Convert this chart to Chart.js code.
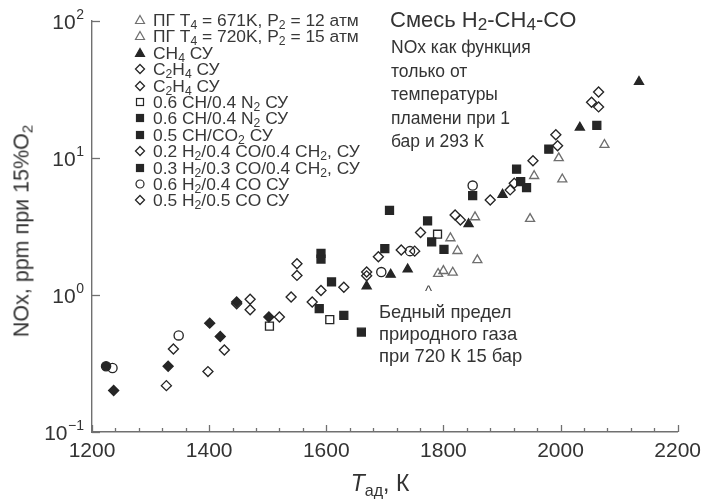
<!DOCTYPE html>
<html><head><meta charset="utf-8">
<script src="https://cdn.jsdelivr.net/npm/chart.js@4/dist/chart.umd.min.js"></script>
<style>
html,body{margin:0;padding:0;background:#fff;}
#wrap{position:relative;width:708px;height:499px;font-family:"Liberation Sans",Arial,sans-serif;color:#333;overflow:hidden;}
canvas{position:absolute;left:0;top:0;}
.t{position:absolute;white-space:nowrap;}
sub{font-size:0.7em;vertical-align:-0.28em;line-height:0;}
.lg{position:absolute;white-space:nowrap;font-size:17.4px;line-height:18px;height:18px;color:#383838;}
.lg svg{position:absolute;left:-19px;top:3px;}
</style></head><body>
<div id="wrap">
<canvas id="c" width="708" height="499"></canvas>
<div id="legend"></div>
<div class="t" style="left:390px;top:7px;font-size:22px;">Смесь H<sub style="font-size:0.78em;vertical-align:-0.2em">2</sub>-CH<sub style="font-size:0.78em;vertical-align:-0.2em">4</sub>-CO</div>
<div class="t" style="left:391px;top:36px;font-size:17.5px;line-height:23.5px;">NOx как функция<br>только от<br>температуры<br>пламени при 1<br>бар и 293 К</div>
<div class="t" style="left:379px;top:301px;font-size:18.4px;line-height:22px;">Бедный предел<br>природного газа<br>при 720 К 15 бар</div>
<div class="t" style="left:425px;top:282px;font-size:15px;color:#444;">^</div>
<div class="t" style="left:0;width:760px;top:470px;text-align:center;font-size:23px;"><i>T</i><sub style="font-size:0.7em">ад</sub>, К</div>
<div class="t" style="left:22px;top:231px;font-size:21.5px;transform:translate(-50%,-50%) rotate(-90deg);">NOx, ppm при 15%O<sub>2</sub></div>
</div>
<script>
// ---- data (T_ad in K, NOx in ppm @15% O2) ----
const xTickValues = [1200, 1400, 1600, 1800, 2000, 2200];
const yTickValues = [0.1, 1, 10, 100];
const yTickExponents = ['\u22121', '0', '1', '2'];

const pg671 = [[1791,1.43],[1800,1.5],[1816,1.46],[1824,2.1],[1858,1.8],[1812,2.6]];
const pg720 = [[1854,3.7],[1948,3.6],[1955,7.4],[1997,10],[2003,7.0],[2075,12.5]];
const ch4 = [[2134,36],[2033,16.7],[1901,5.4],[1843,3.3],[1739,1.54],[1710,1.41],[1669,1.16]];
const c2h4a = [[1327,0.218],[1398,0.276],[1426,0.397],[1339,0.404],[1470,0.93],[1470,0.78],[1447,0.864],[1520,0.69]];
const c2h4b = [[1540,0.967],[1550,1.69],[1550,1.39],[1576,0.889],[1591,1.08],[1630,1.14]];
const chN2open = [[1790,2.78],[1606,0.661],[1503,0.593]];
const chN2filled = [[1588,0.794],[1591,2.01],[1591,1.83],[1609,1.245],[1630,0.71],[1660,0.536]];
const chCO2 = [[1700,2.18],[1708,4.15],[1773,3.47],[1780,2.44],[1801,2.15],[1850,5.31]];
const h2co02 = [[1669,1.47],[1669,1.38],[1689,1.9],[1728,2.13],[1751,2.09],[1761,2.86],[1820,3.84],[1829,3.53]];
const h2co03 = [[1925,8.28],[1932,6.73],[1942,6.08],[1980,11.6],[2062,17.3]];
const h2co06 = [[1235,0.293],[1348,0.507],[1694,1.47],[1743,2.09],[1850,6.29]];
const h2co05 = [[1880,4.94],[1914,5.85],[1921,6.54],[1953,9.54],[1992,14.8],[1995,12.3],[2053,25.5],[2065,30.3],[2065,23.6]];
const extraFilledDiamond = [[1237,0.201],[1330,0.302],[1401,0.623],[1419,0.498],[1447,0.889],[1502,0.69]];
const extraFilledCircle = [[1224,0.302]];

const seriesLabels = [
  'ПГ T_4 = 671K, P_2 = 12 атм',
  'ПГ T_4 = 720K, P_2 = 15 атм',
  'CH_4 СУ',
  'C_2H_4 СУ',
  'C_2H_4 СУ',
  '0.6 CH/0.4 N_2 СУ',
  '0.6 CH/0.4 N_2 СУ',
  '0.5 CH/CO_2 СУ',
  '0.2 H_2/0.4 CO/0.4 CH_2, СУ',
  '0.3 H_2/0.3 CO/0.4 CH_2, СУ',
  '0.6 H_2/0.4 CO СУ',
  '0.5 H_2/0.5 CO СУ'
];

const GREY = '#6f6f6f', DARK = '#262626';
const series = [
  {data: pg671, style:'triangle', fill:false, color:GREY, legend:0},
  {data: pg720, style:'triangle', fill:false, color:GREY, legend:1},
  {data: ch4, style:'triangle', fill:true, color:DARK, legend:2},
  {data: c2h4a, style:'rectRot', fill:false, color:DARK, legend:3},
  {data: c2h4b, style:'rectRot', fill:false, color:DARK, legend:4},
  {data: chN2open, style:'rect', fill:false, color:DARK, legend:5},
  {data: chN2filled, style:'rect', fill:true, color:DARK, legend:6},
  {data: chCO2, style:'rect', fill:true, color:DARK, legend:7},
  {data: h2co02, style:'rectRot', fill:false, color:DARK, legend:8},
  {data: h2co03, style:'rect', fill:true, color:DARK, legend:9},
  {data: h2co06, style:'circle', fill:false, color:DARK, legend:10},
  {data: h2co05, style:'rectRot', fill:false, color:DARK, legend:11},
  {data: extraFilledDiamond, style:'rectRot', fill:true, color:DARK, legend:-1},
  {data: extraFilledCircle, style:'circle', fill:true, color:DARK, legend:-1}
];
const radiusFor = {triangle:5.2, rectRot:5, rect:5.6, circle:4.6};

const datasets = series.map(s => ({
  label: s.legend >= 0 ? seriesLabels[s.legend] : '',
  data: s.data.map(p => ({x:p[0], y:p[1]})),
  pointStyle: s.style,
  pointRadius: radiusFor[s.style],
  pointBackgroundColor: s.fill ? s.color : 'rgba(0,0,0,0)',
  pointBorderColor: s.color,
  pointBorderWidth: 1.35,
  showLine: false
}));

// ---- custom legend (HTML text, svg markers) ----
function markerSvg(style, fill, color){
  const f = fill ? color : 'none';
  let shape = '';
  if (style==='triangle') shape = `<polygon points="6,1.5 10.5,9.5 1.5,9.5" fill="${f}" stroke="${color}" stroke-width="1.2"/>`;
  else if (style==='rectRot') shape = `<polygon points="6,1.5 10.5,6 6,10.5 1.5,6" fill="${f}" stroke="${color}" stroke-width="1.3"/>`;
  else if (style==='rect') shape = `<rect x="2.5" y="2.5" width="7" height="7" fill="${f}" stroke="${color}" stroke-width="1.2"/>`;
  else shape = `<circle cx="6" cy="6" r="4" fill="${f}" stroke="${color}" stroke-width="1.2"/>`;
  return `<svg width="12" height="12" viewBox="0 0 12 12">${shape}</svg>`;
}
const lg = document.getElementById('legend');
series.filter(s => s.legend >= 0).forEach(s => {
  const i = s.legend;
  const d = document.createElement('div');
  d.className = 'lg';
  d.style.left = '153px';
  d.style.top = (11 + i*16.4) + 'px';
  d.innerHTML = markerSvg(s.style, s.fill, s.color) + seriesLabels[i].replace(/_(\d)/g, '<sub>$1</sub>');
  lg.appendChild(d);
});

// ---- inward ticks + y labels ----
const axisDecor = {
  id: 'axisDecor',
  afterDraw(chart){
    const {ctx, scales:{x, y}} = chart;
    ctx.save();
    ctx.strokeStyle = '#707070';
    ctx.lineWidth = 1.3;
    const yb = y.bottom;
    for (let v = 1200; v <= 2200; v += 40){
      const px = Math.round(x.getPixelForValue(v)) + 0.5;
      const major = (v - 1200) % 200 === 0;
      ctx.beginPath(); ctx.moveTo(px, yb); ctx.lineTo(px, yb - (major ? 7 : 4)); ctx.stroke();
    }
    yTickValues.forEach(v => {
      const py = Math.round(y.getPixelForValue(v)) + 0.5;
      ctx.beginPath(); ctx.moveTo(x.left, py); ctx.lineTo(x.left + 8, py); ctx.stroke();
    });
    ctx.fillStyle = '#333';
    ctx.textBaseline = 'middle';
    ctx.textAlign = 'left';
    const right = 84;
    yTickValues.forEach((v, i) => {
      const py = y.getPixelForValue(v) + 2;
      ctx.font = '14px "Liberation Sans", Arial, sans-serif';
      const ew = ctx.measureText(yTickExponents[i]).width;
      ctx.font = '21px "Liberation Sans", Arial, sans-serif';
      const bw = ctx.measureText('10').width;
      ctx.fillText('10', right - ew - bw - 0.5, py);
      ctx.font = '14px "Liberation Sans", Arial, sans-serif';
      ctx.fillText(yTickExponents[i], right - ew, py - 8);
    });
    ctx.restore();
  }
};

new Chart(document.getElementById('c'), {
  type: 'scatter',
  data: { datasets },
  options: {
    responsive: false,
    animation: false,
    layout: { padding: { top: 21, right: 28, left: 0, bottom: 0 } },
    plugins: { legend: { display: false }, tooltip: { enabled: false } },
    scales: {
      x: {
        type: 'linear', min: 1200, max: 2200,
        afterBuildTicks: s => { s.ticks = xTickValues.map(v => ({value: v})); },
        afterFit: s => { s.height = 67; },
        grid: { display: false, drawTicks: false },
        border: { display: true, color: '#707070', width: 1.4 },
        ticks: { color: '#333', font: { size: 21, family: '"Liberation Sans", Arial, sans-serif' }, padding: 7, maxRotation: 0, autoSkip: false, callback: v => String(v) }
      },
      y: {
        type: 'logarithmic', min: 0.1, max: 100,
        afterBuildTicks: s => { s.ticks = yTickValues.map(v => ({value: v})); },
        afterFit: s => { s.width = 92; },
        grid: { display: false, drawTicks: false },
        border: { display: true, color: '#707070', width: 1.4 },
        ticks: { display: false }
      }
    }
  },
  plugins: [axisDecor]
});
</script>
</body></html>
